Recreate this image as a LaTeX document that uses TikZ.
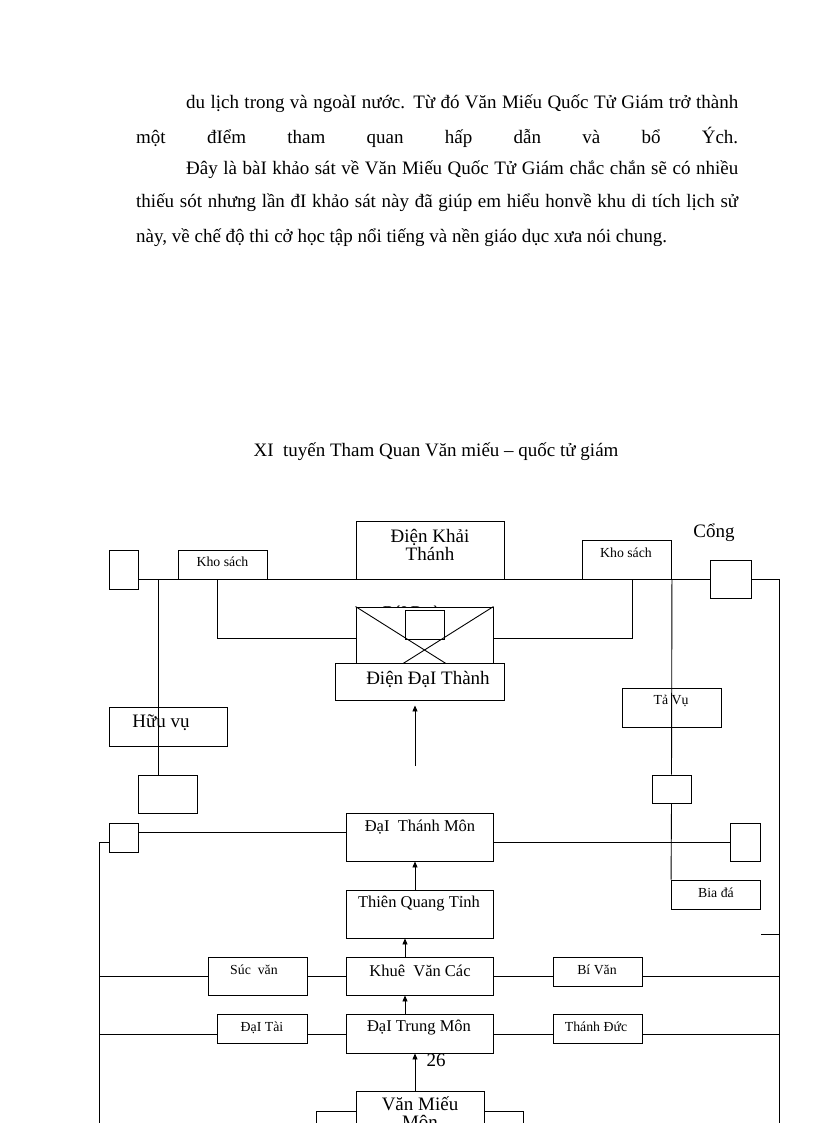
\documentclass[tikz,border=0pt]{standalone}
\usepackage{fontspec}
\setmainfont{Liberation Serif}
\usetikzlibrary{arrows.meta,calc}
\newcommand{\FPar}{\fontsize{19}{22}\selectfont}
\newcommand{\FBig}{\fontsize{19}{16}\selectfont}
\newcommand{\FMid}{\fontsize{16.5}{16}\selectfont}
\newcommand{\FSml}{\fontsize{13.8}{14}\selectfont}
\begin{document}
\begin{tikzpicture}[x=1pt,y=-1pt,
  box/.style={draw,line width=0.9pt,inner sep=0pt},
  wbox/.style={box,fill=white},
  lnk/.style={line width=0.9pt},
  arr/.style={line width=0.9pt,-{Triangle[length=6pt,width=5pt]}},
  txt/.style={inner sep=0pt,anchor=base west},
  lbl/.style={inner sep=0pt}]
\useasboundingbox (0,0) rectangle (816,1123);
\fill[white] (0,0) rectangle (816,1123);
\clip (0,0) rectangle (816,1123);

% paragraph
\node[txt] (p1) at (186,109) {\FPar\makebox[552pt][s]{du lịch trong và ngoàI nước. Từ đó Văn Miếu Quốc Tử Giám trở thành}};
\node[txt] (p2) at (136,144) {\FPar\makebox[602pt][s]{một đIểm tham quan hấp dẫn và bổ Ých.}};
\node[txt] (p3) at (186,175) {\FPar\makebox[552pt][s]{Đây là bàI khảo sát về Văn Miếu Quốc Tử Giám chắc chắn sẽ có nhiều}};
\node[txt] (p4) at (136,208) {\FPar\makebox[602pt][s]{thiếu sót nhưng lần đI khảo sát này đã giúp em hiểu honvề khu di tích lịch sử}};
\node[txt] (p5) at (136,242) {\FPar này, về chế độ thi cở học tập nổi tiếng và nền giáo dục xưa nói chung.};

% title
\node[lbl] (title) at (436,452) {\FPar XI\ \ tuyến Tham Quan Văn miếu – quốc tử giám};

% top row
\node[box,minimum width=29pt,minimum height=39pt] (bL) at (123.5,569.5) {};
\node[box,minimum width=89pt,minimum height=29pt] (khoL) at (222.5,564.5) {};
\node[box,minimum width=148pt,minimum height=58pt] (khai) at (430,550) {};
\node[box,minimum width=89pt,minimum height=39pt] (khoR) at (627,559.5) {};
\node[box,minimum width=41pt,minimum height=38pt] (cong) at (730.5,579) {};
\node[lbl] (tkhoL) at (222.5,562) {\FSml Kho sách};
\node[lbl,align=center] (tkhai) at (430,545) {\FBig Điện Khải\\ \FBig Thánh};
\node[lbl] (tkhoR) at (626,553) {\FSml Kho sách};
\node[lbl] (tcong) at (714,533) {\FBig Cổng};

% connectors of top row
\coordinate (hv) at (158,579);
\coordinate (kl) at (217,638);
\coordinate (kr) at (632,638);
\coordinate (rbot) at (779,1130);
\draw[lnk] (bL.east |- cong.west) -- (cong.west);
\draw[lnk] (cong.east) -| (rbot);

% Bai Duong / X box
\node[lbl] (tbai) at (420,614) {\FMid BáI Đường};
\node[wbox,minimum width=137pt,minimum height=86pt] (xb) at (424.5,650) {};
\draw[lnk] (xb.north west) -- (xb.south east);
\draw[lnk] (xb.north east) -- (xb.south west);
\node[box,minimum width=39pt,minimum height=29pt] (inner) at (424.5,624.5) {};
\draw[lnk] (kl |- khoL.south) -- (kl) -- (kl -| xb.west);
\draw[lnk] (kr |- khoR.south) -- (kr) -- (kr -| xb.east);

% Dien Dai Thanh
\node[wbox,minimum width=169pt,minimum height=37pt] (dai) at (419.5,681.5) {};
\node[lbl] (tdai) at (428,679) {\FBig Điện ĐạI Thành};
\coordinate (a1) at (415,766);
\draw[arr,shorten >=5pt] (a1) -- (a1 |- dai.south);

% left column
\node[box,minimum width=118pt,minimum height=39pt] (huu) at (168,726.5) {};
\node[lbl] (thuu) at (161,723) {\FBig Hữu vụ};
\node[box,minimum width=59pt,minimum height=38pt] (bL2) at (167.5,794) {};
\draw[lnk] (hv) -- (hv |- bL2.north);

% right column
\node[box,minimum width=99pt,minimum height=39pt] (tavu) at (671.5,707.5) {};
\node[lbl] (ttavu) at (671,701) {\FSml Tả Vụ};
\node[box,minimum width=39pt,minimum height=28pt] (bR2) at (671.5,789) {};
\node[box,minimum width=89pt,minimum height=29pt] (bia) at (716,894.5) {};
\node[lbl] (tbia) at (716,893) {\FSml Bia đá};
\draw[lnk] (khoR.south east) -- (bR2.north);
\draw[lnk] (bR2.south) -- (bia.north west);

% central column
\node[box,minimum width=147pt,minimum height=48pt] (dtm) at (419.5,837) {};
\node[lbl] (tdtm) at (420,827) {\FMid ĐạI\ \ Thánh Môn};
\node[box,minimum width=147pt,minimum height=48pt] (tqt) at (419.5,914) {};
\node[lbl] (ttqt) at (419,904) {\FMid Thiên Quang Tỉnh};
\node[box,minimum width=147pt,minimum height=38pt] (kvc) at (419.5,976) {};
\node[lbl] (tkvc) at (420,971) {\FMid Khuê\ \ Văn Các};
\node[box,minimum width=147pt,minimum height=39pt] (dtrm) at (419.5,1033.5) {};
\node[lbl] (tdtrm) at (419,1028) {\FMid ĐạI Trung Môn};
\node[lbl] (tpage) at (436,1060) {\FBig 26};

% side boxes of bottom
\node[box,minimum width=40pt,minimum height=40pt] (sideL) at (336,1131) {};
\node[box,minimum width=39pt,minimum height=40pt] (sideR) at (503.5,1131) {};
\node[wbox,minimum width=128pt,minimum height=49pt] (vmm) at (420,1115.5) {};
\node[lbl,align=center,anchor=north] (tvmm) at (420,1097) {\FBig Văn Miếu\\[3pt] \FBig Môn};

% arrows on the axis
\coordinate (ax1) at (415,0);
\coordinate (ax2) at (405,0);
\draw[arr] (tqt.north -| ax1) -- (dtm.south -| ax1);
\draw[arr] (kvc.north -| ax2) -- (tqt.south -| ax2);
\draw[arr] (dtrm.north -| ax2) -- (kvc.south -| ax2);
\draw[arr] (vmm.north -| ax1) -- (dtrm.south -| ax1);

% DaI Thanh Mon side lines
\node[box,minimum width=29pt,minimum height=29pt] (bL3) at (123.5,837.5) {};
\node[box,minimum width=30pt,minimum height=38pt] (bR3) at (745,842) {};
\coordinate (y832) at (0,832);
\coordinate (y842) at (0,842);
\coordinate (lbot) at (99,1130);
\draw[lnk] (bL3.east |- y832) -- (dtm.west |- y832);
\draw[lnk] (bL3.west |- y842) -| (lbot);
\draw[lnk] (dtm.east |- bR3.west) -- (bR3.west);
\coordinate (tick) at (761,934);
\draw[lnk] (tick) -- (tick -| rbot);

% Suc van / Bi Van row
\node[box,minimum width=99pt,minimum height=38pt] (suc) at (257.5,976) {};
\node[lbl] (tsuc) at (254,970) {\FSml Súc\ \ văn};
\node[box,minimum width=89pt,minimum height=29pt] (biv) at (597.5,971.5) {};
\node[lbl] (tbiv) at (597,970) {\FSml Bí Văn};
\coordinate (y976) at (0,976);
\draw[lnk] (lbot |- y976) -- (suc.west);
\draw[lnk] (suc.east) -- (kvc.west);
\draw[lnk] (kvc.east) -- (biv.west |- y976);
\draw[lnk] (biv.east |- y976) -- (rbot |- y976);

% DaI Tai / Thanh Duc row
\node[box,minimum width=90pt,minimum height=29pt] (dtai) at (262,1028.5) {};
\node[lbl] (tdtai) at (262,1028) {\FSml ĐạI Tài};
\node[box,minimum width=89pt,minimum height=29pt] (tduc) at (597.5,1028.5) {};
\node[lbl] (ttduc) at (596,1027) {\FSml Thánh Đức};
\coordinate (y1034) at (0,1034);
\draw[lnk] (lbot |- y1034) -- (dtai.west |- y1034);
\draw[lnk] (dtai.east |- y1034) -- (dtrm.west |- y1034);
\draw[lnk] (dtrm.east |- y1034) -- (tduc.west |- y1034);
\draw[lnk] (tduc.east |- y1034) -- (rbot |- y1034);
\end{tikzpicture}
\end{document}
